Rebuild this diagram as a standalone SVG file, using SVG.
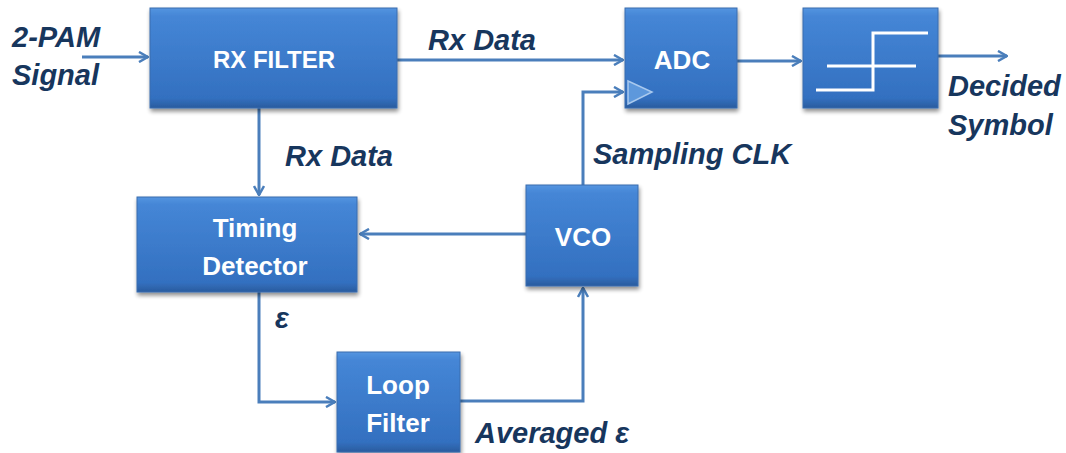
<svg xmlns="http://www.w3.org/2000/svg" width="1066" height="453" viewBox="0 0 1066 453">
<style>
.box{fill:url(#bg);stroke:#3a6cae;stroke-width:1;filter:url(#sh)}
.bt{font-family:"Liberation Sans",Arial,sans-serif;font-size:26px;font-weight:bold;fill:#ffffff;text-anchor:middle}
.lb{font-family:"Liberation Sans",Arial,sans-serif;font-size:29px;font-weight:bold;font-style:italic;fill:#17365d}
.cn{fill:none;stroke:#4a7ebb;stroke-width:3}
.sym{fill:none;stroke:#ffffff;stroke-width:3}
</style>
<defs>
<linearGradient id="bg" x1="0" y1="0" x2="0" y2="1">
<stop offset="0" stop-color="#5595e0"/>
<stop offset="0.08" stop-color="#4586d6"/>
<stop offset="0.9" stop-color="#3370c0"/>
<stop offset="1" stop-color="#2a5c9e"/>
</linearGradient>
<filter id="sh" x="-10%" y="-10%" width="125%" height="130%">
<feGaussianBlur in="SourceAlpha" stdDeviation="2"/>
<feOffset dx="1" dy="3" result="o"/>
<feComponentTransfer><feFuncA type="linear" slope="0.45"/></feComponentTransfer>
<feMerge><feMergeNode/><feMergeNode in="SourceGraphic"/></feMerge>
</filter>
<marker id="ar" viewBox="0 0 12 12" refX="11" refY="6" markerWidth="12" markerHeight="12" markerUnits="userSpaceOnUse" orient="auto">
<path d="M2,1 L11,6 L2,11" fill="none" stroke="#4a7ebb" stroke-width="2.5"/>
</marker>
</defs>
<g id="connectors">
<path class="cn" d="M82,57 H148" marker-end="url(#ar)"/>
<path class="cn" d="M397,60 H623" marker-end="url(#ar)"/>
<path class="cn" d="M737,61 H801" marker-end="url(#ar)"/>
<path class="cn" d="M938,56 H1007" marker-end="url(#ar)"/>
<path class="cn" d="M259,108 V195" marker-end="url(#ar)"/>
<path class="cn" d="M526,234 H360" marker-end="url(#ar)"/>
<path class="cn" d="M583,185 V92 H623" marker-end="url(#ar)"/>
<path class="cn" d="M259,292 V402 H335" marker-end="url(#ar)"/>
<path class="cn" d="M460,401 H583 V288" marker-end="url(#ar)"/>
</g>
<g id="rx-filter">
<rect class="box" x="150" y="8" width="247" height="100"/>
<text class="bt" x="274" y="68" style="font-size:24px">RX FILTER</text>
</g>
<g id="adc">
<rect class="box" x="625" y="8" width="112" height="100"/>
<text class="bt" x="682" y="69">ADC</text>
<polygon points="628,81 652,92 628,104" fill="#5d98dc" stroke="#a9c9ee" stroke-width="1.5"/>
</g>
<g id="decision">
<rect class="box" x="803" y="8" width="135" height="100"/>
<path class="sym" d="M816,90 H873 V33 H928"/>
<path class="sym" d="M827,66 H916"/>
</g>
<g id="timing-detector">
<rect class="box" x="137" y="197" width="220" height="95"/>
<text class="bt" x="255" y="237">Timing</text>
<text class="bt" x="255" y="275">Detector</text>
</g>
<g id="vco">
<rect class="box" x="526" y="185" width="112" height="101"/>
<text class="bt" x="583" y="246">VCO</text>
</g>
<g id="loop-filter">
<rect class="box" x="337" y="352" width="123" height="100"/>
<text class="bt" x="398" y="394">Loop</text>
<text class="bt" x="398" y="432">Filter</text>
</g>
<g id="labels">
<text class="lb" x="12" y="47">2-PAM</text>
<text class="lb" x="12" y="85">Signal</text>
<text class="lb" x="428" y="50">Rx Data</text>
<text class="lb" x="285" y="166">Rx Data</text>
<text class="lb" x="593" y="164">Sampling CLK</text>
<text class="lb" x="948" y="96">Decided</text>
<text class="lb" x="948" y="135">Symbol</text>
<text class="lb" x="275" y="328">ε</text>
<text class="lb" x="475" y="443">Averaged ε</text>
</g>
</svg>
